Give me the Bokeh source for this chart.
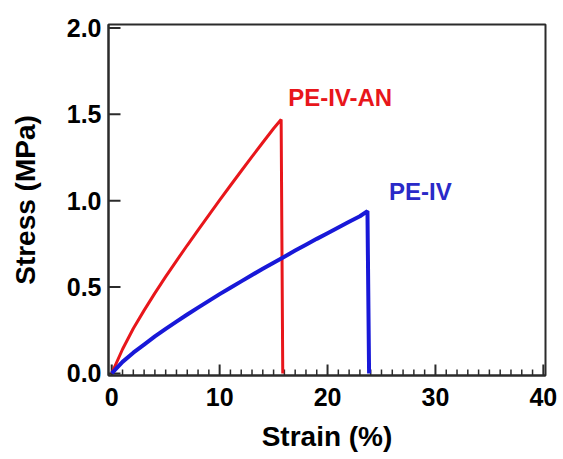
from bokeh.plotting import figure
from bokeh.models import FixedTicker, PrintfTickFormatter
from bokeh.core.properties import value
from bokeh.embed import file_html
from bokeh.resources import INLINE

# Data
red_strain = [0, 1, 2, 3, 4, 5, 6, 7, 8, 9, 10, 11, 12, 13, 14, 15, 15.7, 15.85]
red_stress = [0, 0.14, 0.26, 0.365, 0.465, 0.56, 0.652, 0.742, 0.83, 0.917, 1.003,
              1.088, 1.172, 1.255, 1.337, 1.418, 1.47, 0.0]
blue_strain = [0, 1, 2, 3, 4, 5, 6, 7, 8, 9, 10, 11, 12, 13, 14, 15, 16, 17, 18, 19,
               20, 21, 22, 23, 23.7, 23.85]
blue_stress = [0, 0.067, 0.12, 0.167, 0.214, 0.258, 0.3, 0.341, 0.381, 0.42, 0.459,
               0.496, 0.533, 0.57, 0.606, 0.641, 0.676, 0.711, 0.745, 0.779, 0.812,
               0.845, 0.878, 0.91, 0.94, 0.0]
series_names = ["PE-IV-AN", "PE-IV"]
label_x = [16.35, 25.7]
label_y = [1.597, 1.051]
x_ticks = [0, 10, 20, 30, 40]
x_minor = [m for m in range(0, 41) if m % 10 != 0]
y_ticks = [0.0, 0.5, 1.0, 1.5, 2.0]

FONT = "Liberation Sans"
AX = "#2b2b2b"
RED = "#e8161b"
BLUE = "#1818d8"
X0, X1 = -0.3, 40.2
Y0, Y1 = -0.012, 2.02

p = figure(width=563, height=459, x_range=(X0, X1), y_range=(Y0, Y1),
           output_backend="svg", toolbar_location=None,
           min_border_left=108, min_border_right=18, min_border_top=24,
           min_border_bottom=84)
p.grid.visible = False
p.background_fill_color = "white"
p.border_fill_color = "white"
p.outline_line_color = AX
p.outline_line_width = 2

# inward ticks: dash markers centred on the axis line (outer half clipped by the frame)
p.scatter(x=x_ticks, y=[Y0] * len(x_ticks), marker="dash", size=22, angle=90,
          angle_units="deg", line_color=AX, line_width=2)
p.scatter(x=x_minor, y=[Y0] * len(x_minor), marker="dash", size=12, angle=90,
          angle_units="deg", line_color=AX, line_width=1.5)
p.scatter(x=[X0] * len(y_ticks), y=y_ticks, marker="dash", size=24,
          line_color=AX, line_width=2)

p.line(red_strain, red_stress, line_color=RED, line_width=3)
p.line(blue_strain, blue_stress, line_color=BLUE, line_width=4)

p.text(x=[label_x[0]], y=[label_y[0]], text=[series_names[0]], text_color=RED,
       text_font=value(FONT), text_font_style="bold", text_font_size="24px",
       text_baseline="middle", text_align="left")
p.text(x=[label_x[1]], y=[label_y[1]], text=[series_names[1]], text_color="#2a2ac8",
       text_font=value(FONT), text_font_style="bold", text_font_size="24px",
       text_baseline="middle", text_align="left")

p.xaxis.ticker = FixedTicker(ticks=x_ticks)
p.yaxis.ticker = FixedTicker(ticks=y_ticks)
p.yaxis.formatter = PrintfTickFormatter(format="%.1f")

for ax in (p.xaxis[0], p.yaxis[0]):
    ax.axis_line_color = AX
    ax.axis_line_width = 2
    ax.major_tick_line_color = None
    ax.minor_tick_line_color = None
    ax.major_tick_in = 0
    ax.major_tick_out = 0
    ax.major_label_text_font = FONT
    ax.major_label_text_font_style = "bold"
    ax.major_label_text_font_size = "25px"
    ax.major_label_text_color = "black"
    ax.axis_label_text_font = FONT
    ax.axis_label_text_font_style = "bold"
    ax.axis_label_text_font_size = "28px"
    ax.axis_label_text_color = "black"

p.xaxis.axis_label = "Strain (%)"
p.yaxis.axis_label = "Stress (MPa)"
p.xaxis.major_label_standoff = 12
p.yaxis.major_label_standoff = 7
p.xaxis.axis_label_standoff = 12
p.yaxis.axis_label_standoff = 23

open("out.html", "w").write(file_html(p, INLINE))
